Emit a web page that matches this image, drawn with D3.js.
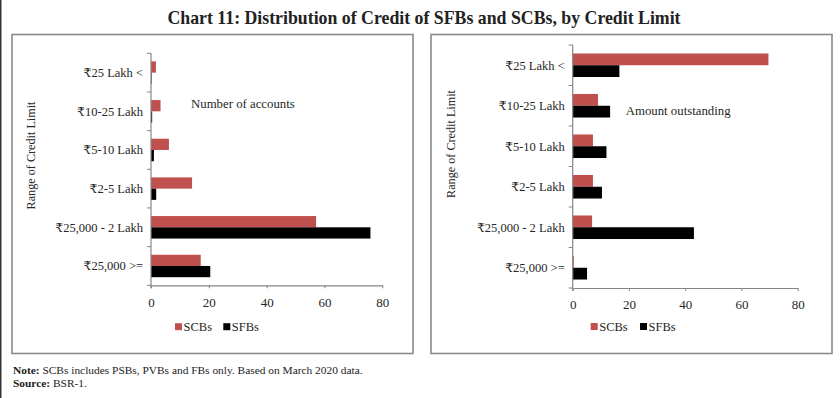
<!DOCTYPE html>
<html><head><meta charset="utf-8">
<script src="https://cdn.jsdelivr.net/npm/d3@7"></script>
<style>
body{margin:0;background:#fff;}
svg{display:block;font-family:"Liberation Serif","DejaVu Serif",serif;}
</style></head>
<body><svg id="c" width="840" height="398"></svg>
<script>
const categories = ["₹25 Lakh <","₹10-25 Lakh","₹5-10 Lakh","₹2-5 Lakh","₹25,000 - 2 Lakh","₹25,000 >="];
const seriesNames = ["SCBs","SFBs"];
const accountsSCBs = [1.7, 3.3, 6.2, 14.2, 57.1, 17.2];
const accountsSFBs = [0.2, 0.4, 1.0, 1.8, 75.9, 20.5];
const amountSCBs = [69.6, 9.0, 7.2, 7.2, 6.9, 0.4];
const amountSFBs = [16.6, 13.3, 12.0, 10.4, 43.1, 5.1];
const xTicks = [0, 20, 40, 60, 80];
const colors = {SCBs: "#c0504d", SFBs: "#000000"};
const titleText = "Chart 11: Distribution of Credit of SFBs and SCBs, by Credit Limit";

const svg = d3.select("#c");
const textCol = "#262626";
const axisCol = "#868686";

svg.append("rect").attr("x",0).attr("y",0).attr("width",1.5).attr("height",398).attr("fill","#333");

const title = svg.append("text").attr("x",424).attr("y",23.5).attr("text-anchor","middle")
  .attr("font-size",17.8).attr("font-weight","bold").attr("fill","#222").text(titleText);

function panel(opt){
  const g = svg.append("g");
  g.append("rect").attr("x",opt.box[0]).attr("y",opt.box[1]).attr("width",opt.box[2]).attr("height",opt.box[3])
    .attr("fill","none").attr("stroke","#8a8a8a").attr("stroke-width",1.6);
  const x = d3.scaleLinear().domain([0,80]).range([opt.x0,opt.x1]);
  const y = d3.scaleBand().domain(categories).range([opt.y0,opt.y1]).padding(0);
  const sub = d3.scaleBand().domain(seriesNames).range([0,y.bandwidth()]).paddingInner(0).paddingOuter(0.72);
  const data = categories.map((c,i)=>({cat:c, SCBs:opt.scb[i], SFBs:opt.sfb[i]}));
  const grp = g.selectAll("g.cat").data(data).join("g").attr("transform",d=>`translate(0,${y(d.cat)})`);
  grp.selectAll("rect").data(d=>seriesNames.map(s=>({s, v:d[s]}))).join("rect")
    .attr("x",x(0)).attr("y",d=>sub(d.s)).attr("height",sub.bandwidth())
    .attr("width",d=>x(d.v)-x(0)).attr("fill",d=>colors[d.s]);
  const xa = g.append("g").attr("transform",`translate(0,${opt.y1})`)
    .call(d3.axisBottom(x).tickValues(xTicks).tickSize(3).tickPadding(9).tickSizeOuter(0));
  xa.select(".domain").attr("stroke",axisCol).attr("stroke-width",1.2);
  xa.selectAll(".tick line").attr("stroke",axisCol);
  xa.selectAll(".tick text").attr("font-size",13).attr("fill",textCol).attr("font-family","Liberation Serif, serif");
  const bounds = categories.map(c=>y(c)).concat([opt.y1]);
  g.append("line").attr("x1",x(0)).attr("x2",x(0)).attr("y1",opt.y0).attr("y2",opt.y1+3)
    .attr("stroke",axisCol).attr("stroke-width",1.2);
  g.selectAll("line.yt").data(bounds).join("line").attr("class","yt")
    .attr("x1",x(0)-4).attr("x2",x(0)).attr("y1",d=>d).attr("y2",d=>d).attr("stroke",axisCol);
  g.selectAll("text.cat").data(categories).join("text").attr("class","cat")
    .attr("x",x(0)-8).attr("y",d=>y(d)+y.bandwidth()/2).attr("dy","0.35em")
    .attr("text-anchor","end").attr("font-size",12.5).attr("fill",textCol).text(d=>d);
  g.append("text").attr("transform",`translate(${opt.ytx},${opt.yty}) rotate(-90)`)
    .attr("text-anchor","middle").attr("dy","0.35em").attr("font-size",12.2).attr("fill",textCol)
    .text("Range of Credit Limit");
  g.append("text").attr("x",opt.ann[0]).attr("y",opt.ann[1]).attr("font-size",12.8).attr("fill",textCol).text(opt.annText);
  const lg = g.append("g");
  seriesNames.forEach((s,i)=>{
    const lx = opt.leg[i];
    lg.append("rect").attr("x",lx).attr("y",opt.legY-3.5).attr("width",7).attr("height",7).attr("fill",colors[s]);
    lg.append("text").attr("x",lx+8.5).attr("y",opt.legY).attr("dy","0.35em").attr("font-size",12.5).attr("fill",textCol).text(s);
  });
}

panel({box:[12,34.5,401,319], x0:151, x1:382.3, y0:53.3, y1:285.3, scb:accountsSCBs, sfb:accountsSFBs,
  ytx:31, yty:155.5, ann:[191,108], annText:"Number of accounts", leg:[175,223.3], legY:326.7});
panel({box:[431,34.5,401,319], x0:572.7, x1:797.7, y0:45, y1:288, scb:amountSCBs, sfb:amountSFBs,
  ytx:451, yty:144, ann:[625.7,114.5], annText:"Amount outstanding", leg:[590.7,640], legY:326.5});

const note = svg.append("text").attr("x",13).attr("y",374).attr("font-size",11.4).attr("fill","#222");
note.append("tspan").attr("font-weight","bold").text("Note:");
note.append("tspan").text(" SCBs includes PSBs, PVBs and FBs only. Based on March 2020 data.");
const src = svg.append("text").attr("x",13).attr("y",387).attr("font-size",11.4).attr("fill","#222");
src.append("tspan").attr("font-weight","bold").text("Source:");
src.append("tspan").text(" BSR-1.");
</script></body></html>
